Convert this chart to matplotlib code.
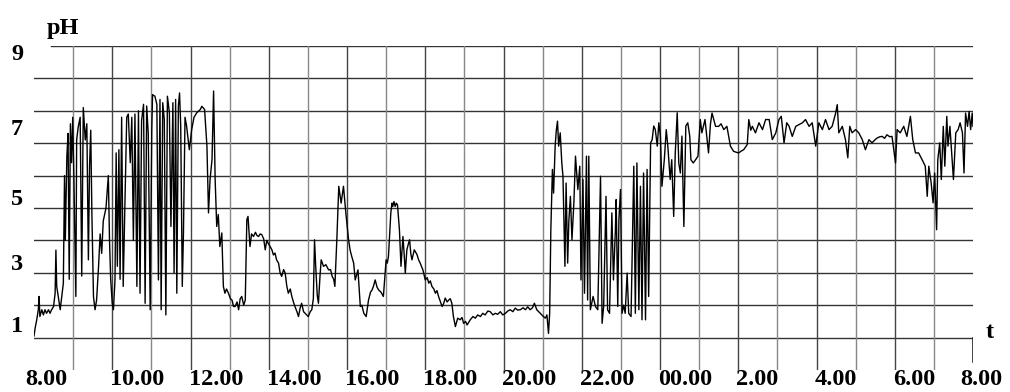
import matplotlib
matplotlib.use("Agg")
import matplotlib.pyplot as plt

# Zeit in Stunden ab 8.00 Uhr, pH-Werte
t_start = [0.00, 0.03, 0.07, 0.11, 0.13, 0.15, 0.20, 0.24, 0.28, 0.32,
           0.37, 0.41, 0.45, 0.50, 0.54, 0.56, 0.58, 0.62, 0.67, 0.71]
ph_start = [0.05, 0.30, 0.55, 0.86, 1.27, 0.65, 0.86, 0.70, 0.86, 0.75,
            0.86, 0.75, 0.86, 0.96, 1.37, 2.70, 1.58, 1.27, 0.86, 1.27]

t_block1 = [0.75, 0.78, 0.80, 0.84, 0.87, 0.90, 0.93, 0.96, 0.99, 1.02,
            1.07, 1.09, 1.13, 1.18, 1.22, 1.26, 1.31, 1.35, 1.39, 1.42,
            1.45, 1.48, 1.52, 1.56, 1.60,
            1.65, 1.69, 1.73, 1.77, 1.84, 1.90, 1.93, 1.96, 2.00, 2.03]
ph_block1 = [1.68, 5.00, 3.00, 5.60, 6.30, 1.80, 6.60, 5.40, 6.80, 4.90,
             1.27, 6.10, 6.50, 6.80, 1.90, 7.10, 6.10, 6.60, 2.40, 5.30,
             6.40, 3.80, 1.27, 0.86, 1.16,
             2.20, 3.20, 2.60, 3.60, 4.00, 5.00, 3.00, 1.80, 1.06, 0.86]

t_block2 = [2.07, 2.10, 2.13, 2.17, 2.20, 2.24, 2.28, 2.33, 2.37, 2.41,
            2.46, 2.50, 2.54, 2.58, 2.63, 2.67, 2.71, 2.75, 2.80, 2.84,
            2.88, 2.92, 2.97, 3.01, 3.03, 3.09, 3.14, 3.18, 3.22, 3.25,
            3.29, 3.33, 3.37, 3.41, 3.46, 3.50, 3.55, 3.58, 3.62, 3.65,
            3.69, 3.72, 3.75, 3.79, 3.82, 3.86, 3.90, 3.97, 4.03, 4.09,
            4.16, 4.25]
ph_block2 = [1.78, 5.70, 2.20, 5.80, 1.80, 6.80, 1.58, 4.40, 6.80, 6.90,
             5.40, 6.80, 3.00, 6.90, 1.58, 7.00, 1.37, 6.70, 7.20, 1.06,
             7.15, 6.30, 0.86, 6.40, 7.50, 7.45, 7.20, 1.78, 7.35, 0.86,
             7.25, 6.73, 0.70, 7.45, 6.94, 3.43, 7.25, 2.00, 7.35, 1.37,
             7.15, 7.55, 6.53, 1.58, 3.23, 6.80, 6.53, 5.80, 6.42, 6.80,
             6.94, 7.04]

t_mid = [4.29, 4.36, 4.42, 4.46, 4.50, 4.55, 4.59, 4.63, 4.67, 4.71,
         4.75, 4.80, 4.84, 4.88, 4.92, 4.97, 5.02, 5.06, 5.10, 5.14,
         5.19, 5.23, 5.27, 5.31, 5.36, 5.40, 5.44, 5.47, 5.52, 5.56,
         5.61, 5.66, 5.70, 5.74, 5.78, 5.82, 5.87, 5.91, 5.95, 5.99,
         6.04, 6.08, 6.12, 6.16, 6.20, 6.25, 6.29, 6.33, 6.38, 6.42,
         6.46, 6.50, 6.55, 6.59, 6.63, 6.67, 6.72, 6.76, 6.80, 6.84,
         6.89, 6.93, 6.97, 7.01, 7.06, 7.10, 7.14, 7.17, 7.20, 7.24,
         7.27, 7.31, 7.34, 7.40, 7.46, 7.53, 7.58, 7.62, 7.66, 7.69,
         7.74, 7.79, 7.85, 7.91, 7.97, 8.04, 8.08, 8.12, 8.17, 8.21,
         8.28, 8.31, 8.34, 8.38, 8.43, 8.49, 8.55, 8.60, 8.64, 8.68,
         8.72, 8.77, 8.81, 8.87, 8.93]
ph_mid = [7.14, 7.04, 5.91, 3.85, 4.88, 5.50, 7.61, 4.88, 3.43, 3.80,
          2.81, 3.23, 1.58, 1.37, 1.50, 1.37, 1.20, 1.16, 0.96, 0.96,
          1.10, 0.86, 1.20, 1.27, 1.00, 1.16, 3.64, 3.74, 2.81, 3.20,
          3.12, 3.25, 3.15, 3.12, 3.20, 3.18, 3.05, 2.71, 3.00, 2.90,
          2.80, 2.71, 2.55, 2.61, 2.40, 2.30, 2.00, 1.89, 2.10, 1.99,
          1.60, 1.37, 1.50, 1.27, 1.10, 0.96, 0.80, 0.65, 0.90, 1.06,
          0.80, 0.75, 0.70, 0.65, 0.80, 0.86, 1.20, 3.02, 2.20, 1.30,
          1.06, 1.90, 2.40, 2.20, 2.25, 2.09, 2.10, 1.89, 1.80, 1.58,
          3.02, 4.67, 4.15, 4.67, 3.85, 3.02, 2.70, 2.51, 2.30, 1.78,
          2.09, 1.50, 0.96, 1.00, 0.75, 0.65, 1.16, 1.40, 1.47, 1.60,
          1.78, 1.55, 1.47, 1.40, 1.27]

t_evening = [9.00, 9.03, 9.06, 9.09, 9.12, 9.15, 9.17, 9.20, 9.23, 9.26,
             9.29, 9.31, 9.34, 9.38, 9.43, 9.46, 9.49, 9.53, 9.57, 9.60,
             9.63, 9.66, 9.72, 9.79, 9.83, 9.87, 9.94, 10.00, 10.05, 10.09,
             10.13, 10.17, 10.22, 10.26, 10.30, 10.34, 10.39, 10.43, 10.47, 10.51,
             10.56, 10.60, 10.64, 10.68, 10.72, 10.77, 10.83, 10.89, 10.94, 10.98,
             11.03, 11.07, 11.15, 11.22, 11.28, 11.34, 11.41, 11.47, 11.53, 11.60,
             11.66, 11.73, 11.79, 11.85, 11.92, 11.98, 12.05, 12.11, 12.17, 12.24,
             12.30, 12.36, 12.43, 12.50, 12.56, 12.62, 12.68, 12.74, 12.79, 12.85,
             12.90, 12.94, 12.98, 13.02, 13.07, 13.11, 13.15]
ph_evening = [2.40, 2.30, 2.51, 3.20, 3.85, 4.15, 4.05, 4.20, 4.05, 4.15,
              4.10, 3.80, 3.33, 2.20, 3.12, 2.60, 1.99, 2.71, 2.90, 3.02,
              2.60, 2.40, 2.71, 2.56, 2.40, 2.30, 2.09, 1.78, 1.85, 1.68,
              1.75, 1.58, 1.50, 1.37, 1.45, 1.27, 1.10, 0.96, 1.05, 1.22,
              1.10, 1.16, 1.20, 1.06, 0.65, 0.34, 0.60, 0.55, 0.62, 0.44,
              0.50, 0.39, 0.55, 0.65, 0.60, 0.70, 0.65, 0.75, 0.70, 0.82,
              0.80, 0.70, 0.75, 0.72, 0.80, 0.70, 0.75, 0.82, 0.86, 0.80,
              0.91, 0.85, 0.86, 0.92, 0.86, 0.95, 0.86, 0.92, 1.06, 0.86,
              0.80, 0.75, 0.70, 0.65, 0.60, 0.70, 0.13]

t_night = [13.18, 13.21, 13.25, 13.28, 13.32, 13.35, 13.38, 13.41, 13.45, 13.49,
           13.52, 13.57, 13.60, 13.64, 13.67, 13.71, 13.75, 13.80, 13.84, 13.90,
           13.95, 13.98, 14.03, 14.07, 14.12, 14.15, 14.18, 14.22, 14.29, 14.35,
           14.41, 14.48, 14.52, 14.56, 14.62, 14.66, 14.71, 14.77, 14.81, 14.86,
           14.88, 14.92, 14.95, 14.99, 15.03, 15.07, 15.11, 15.16, 15.20, 15.26,
           15.33, 15.37, 15.41, 15.46, 15.50, 15.54, 15.58, 15.63, 15.67, 15.71,
           15.76, 15.80, 15.84, 15.88, 15.93, 15.97, 16.01, 16.05, 16.11, 16.16,
           16.20, 16.26, 16.30, 16.35, 16.39, 16.44, 16.48, 16.52, 16.56, 16.61,
           16.66, 16.71, 16.76, 16.79, 16.85, 16.91, 16.97]
ph_night = [0.75, 3.33, 5.19, 4.46, 5.91, 6.40, 6.68, 5.91, 6.32, 5.39,
            4.98, 2.20, 4.77, 2.30, 3.60, 4.36, 3.02, 4.20, 5.60, 4.57,
            5.29, 1.78, 4.88, 1.37, 5.60, 1.16, 5.60, 0.86, 1.27, 0.96,
            0.86, 4.98, 0.44, 0.96, 4.36, 0.86, 0.75, 3.85, 1.78, 3.33,
            4.26, 0.96, 3.64, 4.57, 0.75, 1.00, 0.75, 1.99, 0.75, 0.65,
            5.29, 0.75, 5.39, 0.86, 4.67, 0.55, 5.08, 0.55, 5.19, 1.27,
            6.01, 6.11, 6.53, 6.42, 5.91, 6.63, 6.22, 4.67, 5.49, 6.42,
            5.91, 4.88, 5.49, 3.74, 5.70, 6.94, 5.39, 5.08, 6.22, 3.43,
            6.53, 6.63, 6.22, 5.49, 5.39, 5.49, 5.60]

t_morning = [17.03, 17.07, 17.15, 17.24, 17.29, 17.33, 17.42, 17.50, 17.56, 17.63,
             17.71, 17.80, 17.88, 17.95, 18.01, 18.08, 18.14, 18.23, 18.27, 18.32,
             18.36, 18.44, 18.53, 18.62, 18.70, 18.79, 18.87, 18.96, 19.04, 19.10,
             19.17, 19.24, 19.30, 19.38, 19.47, 19.55, 19.64, 19.72, 19.81, 19.89,
             19.98, 20.06, 20.15, 20.23, 20.32, 20.40, 20.49, 20.53, 20.57, 20.66,
             20.74, 20.80, 20.85, 20.91, 21.00, 21.08, 21.17, 21.25, 21.34, 21.42,
             21.49, 21.55, 21.62, 21.68, 21.74, 21.80, 21.87, 21.93, 22.02, 22.06,
             22.14, 22.23, 22.31, 22.40, 22.46, 22.53, 22.61, 22.70, 22.78, 22.83,
             22.87, 22.93, 22.98, 23.02, 23.07, 23.10, 23.15, 23.19, 23.24, 23.28,
             23.33, 23.36, 23.41, 23.45, 23.50, 23.56, 23.62, 23.67, 23.73, 23.77,
             23.81, 23.86, 23.90, 23.94, 23.98, 24.00]
ph_morning = [6.73, 6.32, 6.73, 5.70, 6.60, 6.93, 6.52, 6.52, 6.60, 6.42,
              6.52, 5.91, 5.75, 5.72, 5.70, 5.76, 5.80, 5.96, 6.73, 6.40,
              6.52, 6.32, 6.63, 6.42, 6.73, 6.73, 6.11, 6.32, 6.73, 6.83,
              6.01, 6.63, 6.52, 6.21, 6.52, 6.57, 6.63, 6.73, 6.52, 6.63,
              5.91, 6.63, 6.42, 6.73, 6.42, 6.52, 6.93, 7.19, 6.32, 6.52,
              6.11, 5.55, 6.52, 6.32, 6.42, 6.32, 6.11, 5.80, 6.11, 6.01,
              6.10, 6.16, 6.20, 6.21, 6.15, 6.26, 6.20, 6.21, 5.39, 6.42,
              6.32, 6.52, 6.21, 6.83, 6.11, 5.70, 5.70, 5.49, 5.29, 4.36,
              5.29, 4.78, 4.16, 5.08, 3.33, 5.49, 6.01, 4.88, 6.52, 5.29,
              6.83, 5.91, 6.52, 5.80, 4.88, 6.32, 6.42, 6.63, 6.32, 5.08,
              6.93, 6.52, 6.98, 6.42, 6.93, 6.52]

# Achsenbeschriftungen
x_labels = ["8.00", "10.00", "12.00", "14.00", "16.00", "18.00", "20.00",
            "22.00", "00.00", "2.00", "4.00", "6.00", "8.00"]
x_label_hours = [0, 2, 4, 6, 8, 10, 12, 14, 16, 18, 20, 22, 24]
y_labels = ["9", "7", "5", "3", "1"]
y_label_pos = [8.73, 6.42, 4.26, 2.25, 0.34]

t = t_start + t_block1 + t_block2 + t_mid + t_evening + t_night + t_morning
ph = ph_start + ph_block1 + ph_block2 + ph_mid + ph_evening + ph_night + ph_morning

fig = plt.figure(figsize=(10.10, 3.92), dpi=100)
ax = fig.add_axes([34 / 1010, 22 / 392, 939 / 1010, 324 / 392])
ax.set_xlim(0, 24)
ax.set_ylim(-1, 9)
ax.axis("off")

schrift = dict(family="Liberation Serif", weight="bold", fontsize=17.5)

# Gitter
for i in range(10):
    ax.axhline(i, xmin=0.018 if i == 9 else 0, xmax=1, color="#333333", lw=1.0, zorder=1)
for h in range(1, 24):
    farbe = "#888888" if h % 2 == 1 else "#444444"
    ax.plot([h, h], [-1, 9], color=farbe, lw=1.0, zorder=1)
ax.plot([24, 24], [0, -0.74], color="#222222", lw=1.2, zorder=1)

# Messkurve
ax.plot(t, ph, color="black", lw=1.0, zorder=3)

# Beschriftungen
for lab, h in zip(x_labels, x_label_hours):
    dx = -0.05
    if h == 0:
        dx = -0.23
    elif h == 24:
        dx = -0.33
    ax.text(h + dx, -1.30, lab, ha="left", va="center", clip_on=False, **schrift)
for lab, v in zip(y_labels, y_label_pos):
    ax.text(-0.43, v, lab, ha="center", va="center", clip_on=False, **schrift)
ax.text(0.74, 9.54, "pH", ha="center", va="center", clip_on=False, **schrift)
ax.text(24.42, 0.15, "t", ha="center", va="center", clip_on=False, **schrift)

fig.savefig("out.png", dpi=100)
